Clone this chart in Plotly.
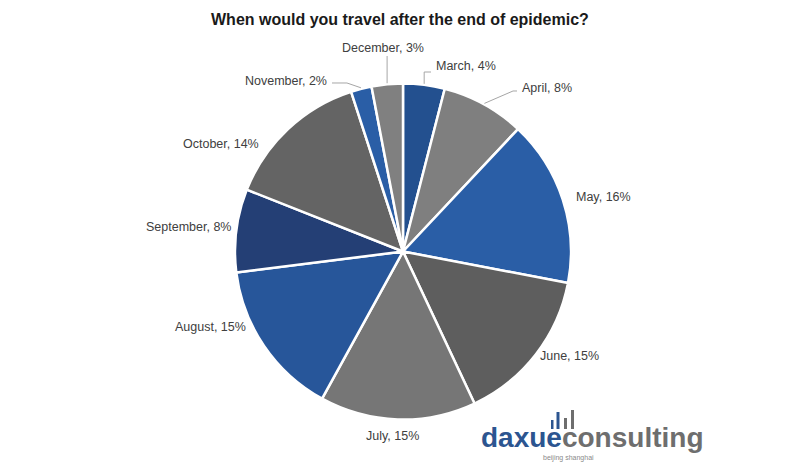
import math
import plotly.graph_objects as go

# ---- data ----
months = ["March", "April", "May", "June", "July", "August",
          "September", "October", "November", "December"]
shares = [4, 8, 16, 15, 15, 15, 8, 14, 2, 3]
colors = ["#23508f", "#7f7f7f", "#2a5ea6", "#5e5e5e", "#767676",
          "#27569a", "#243f75", "#646464", "#2a5ea6", "#808080"]

title_text = "When would you travel after the end of epidemic?"

# ---- layout geometry (pixels) ----
W, H = 800, 468
CX, CY, R = 403, 251.5, 168

def px(x):
    return x / W

def py(y):
    return 1 - y / H

# label anchor positions (pixels): x, y, xanchor, leader flag
label_pos = {
    "March":     (434, 66, "left", True),
    "April":     (520, 88, "left", True),
    "May":       (574, 197, "left", False),
    "June":      (538, 356, "left", False),
    "July":      (392, 436, "center", False),
    "August":    (248, 327, "right", False),
    "September": (233, 227, "right", False),
    "October":   (261, 144, "right", False),
    "November":  (329, 81, "right", True),
    "December":  (383, 48, "center", True),
}

fig = go.Figure()
fig.add_trace(go.Pie(
    labels=months, values=shares, sort=False, direction="clockwise",
    rotation=0, textinfo="none", hoverinfo="label+percent",
    marker=dict(colors=colors, line=dict(color="white", width=2.5)),
    domain=dict(x=[px(CX - R), px(CX + R)], y=[py(CY + R), py(CY - R)]),
    showlegend=False,
))

annotations = []
shapes = []
total = sum(shares)
cum = 0
for m, v in zip(months, shares):
    mid = (cum + v / 2) / total
    cum += v
    ang = 2 * math.pi * mid
    ex = CX + (R + 1) * math.sin(ang)
    ey = CY - (R + 1) * math.cos(ang)
    lx, ly, anchor, leader = label_pos[m]
    annotations.append(dict(
        x=px(lx), y=py(ly), xref="paper", yref="paper",
        text=f"{m}, {round(v)}%", showarrow=False,
        xanchor=anchor, yanchor="middle",
        font=dict(family="Liberation Sans, Arial", size=12.5, color="#404040"),
    ))
    if leader:
        if m == "March":
            pts = [(ex, ey), (ex, ly + 6), (lx - 3, ly + 6)]
        elif anchor == "left":
            pts = [(ex, ey), (lx - 7, ly + 3), (lx - 3, ly + 3)]
        elif anchor == "right":
            pts = [(ex, ey), (ex - 14, ly + 2), (lx + 3, ly + 2)]
        else:
            pts = [(ex, ey), (ex, ly + 8)]
        path = "M " + " L ".join(f"{px(a):.5f},{py(b):.5f}" for a, b in pts)
        shapes.append(dict(type="path", path=path, xref="paper", yref="paper",
                           line=dict(color="#a6a6a6", width=1)))

# title
annotations.append(dict(
    x=px(400), y=py(20), xref="paper", yref="paper", showarrow=False,
    text=f"<b>{title_text}</b>", xanchor="center", yanchor="middle",
    font=dict(family="Liberation Sans, Arial", size=16, color="#1a1a1a"),
))

# logo
annotations.append(dict(
    x=px(479), y=py(455), xref="paper", yref="paper", showarrow=False,
    text="<b><span style='color:#2c5590'>daxue</span><span style='color:#6e6e6e'>consulting</span></b>",
    xanchor="left", yanchor="bottom",
    font=dict(family="Liberation Sans, Arial", size=28),
))
annotations.append(dict(
    x=px(541), y=py(452), xref="paper", yref="paper", showarrow=False,
    text="beijing shanghai", xanchor="left", yanchor="top",
    font=dict(family="Liberation Sans, Arial", size=7, color="#8a8a8a"),
))
bars = [(551, 553.5, 420, "#2c5590"), (556.5, 559.5, 412, "#2c5590"),
        (564, 567, 418, "#6e6e6e"), (571, 574, 410, "#6e6e6e")]
for x0, x1, top, c in bars:
    shapes.append(dict(type="rect", xref="paper", yref="paper",
                       x0=px(x0), x1=px(x1), y0=py(429), y1=py(top),
                       fillcolor=c, line=dict(width=0)))

fig.update_layout(
    width=W, height=H, margin=dict(l=0, r=0, t=0, b=0),
    paper_bgcolor="white", plot_bgcolor="white",
    annotations=annotations, shapes=shapes,
)

fig.write_html("out.html", config={"displayModeBar": False},
               post_script="document.body.style.margin='0px';document.body.style.padding='0px';")
